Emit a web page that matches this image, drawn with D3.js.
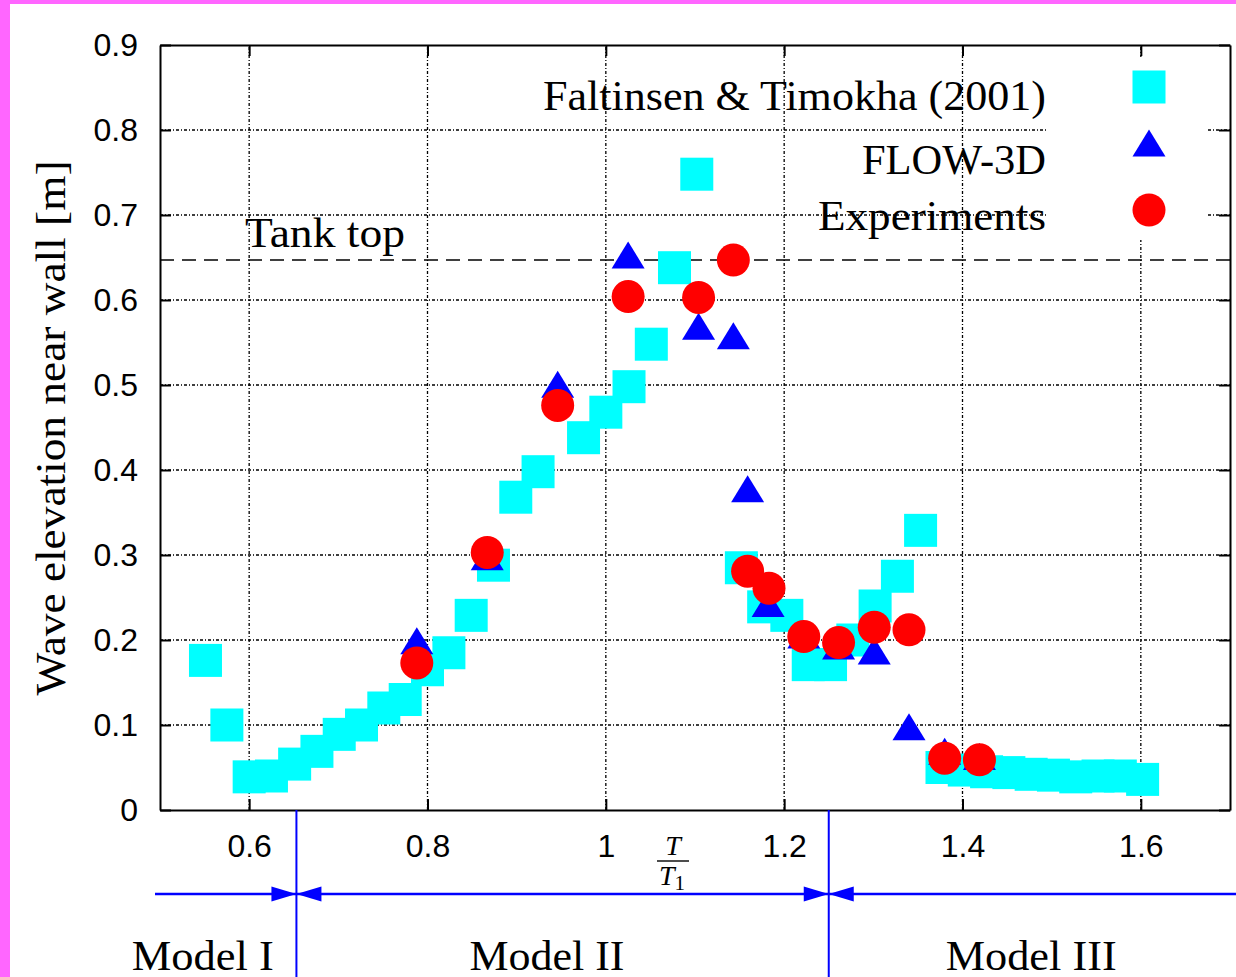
<!DOCTYPE html>
<html>
<head>
<meta charset="utf-8">
<script src="https://cdn.jsdelivr.net/npm/d3@7"></script>
<style>
  body { margin: 0; background: #fff; }
  .tick text { font-family: "Liberation Sans", Arial, sans-serif; font-size: 32px; fill: #000; }
  .axis path, .axis line { stroke: #000; stroke-width: 2; }
  .serif { font-family: "Liberation Serif", "Times New Roman", serif; fill: #000; }
</style>
</head>
<body>
<script>
// ---- data ----
const xTicks = [0.6, 0.8, 1, 1.2, 1.4, 1.6];
const yTicks = [0, 0.1, 0.2, 0.3, 0.4, 0.5, 0.6, 0.7, 0.8, 0.9];

// Faltinsen & Timokha (2001)
const ftT = [0.551, 0.575, 0.600, 0.625, 0.651, 0.676, 0.701, 0.726, 0.751, 0.775,
             0.800, 0.824, 0.849, 0.874, 0.899, 0.924, 0.975, 1.000, 1.026, 1.051,
             1.077, 1.102, 1.152, 1.177, 1.203, 1.227, 1.252, 1.277, 1.302, 1.327,
             1.353, 1.377, 1.402, 1.427, 1.452, 1.477, 1.502, 1.527, 1.552, 1.577, 1.602];
const ftEta = [0.176, 0.100, 0.039, 0.040, 0.054, 0.069, 0.089, 0.100, 0.120, 0.130,
               0.165, 0.185, 0.229, 0.288, 0.368, 0.398, 0.438, 0.468, 0.498, 0.548,
               0.638, 0.748, 0.285, 0.239, 0.229, 0.171, 0.171, 0.200, 0.240, 0.275,
               0.329, 0.050, 0.047, 0.045, 0.044, 0.042, 0.041, 0.039, 0.040, 0.040, 0.036];

// FLOW-3D
const flowT = [0.788, 0.867, 0.946, 1.025, 1.104, 1.143, 1.159, 1.182, 1.222, 1.261, 1.301, 1.340, 1.380, 1.419];
const flowEta = [0.199, 0.298, 0.501, 0.653, 0.569, 0.558, 0.378, 0.243, 0.206, 0.193, 0.187, 0.098, 0.069, 0.063];

// Experiments
const expT = [0.788, 0.867, 0.946, 1.025, 1.104, 1.143, 1.159, 1.183, 1.222, 1.261, 1.301, 1.340, 1.380, 1.419];
const expEta = [0.173, 0.303, 0.476, 0.604, 0.603, 0.647, 0.281, 0.261, 0.204, 0.197, 0.215, 0.212, 0.061, 0.059];

const legendNames = ["Faltinsen & Timokha (2001)", "FLOW-3D", "Experiments"];
const tankTop = 0.647;
const modelBounds = [0.653, 1.25];
const modelNames = ["Model I", "Model II", "Model III"];
const modelLabelAt = [0.548, 0.934, 1.477];

// ---- layout ----
const W = 1236, H = 977;
const margin = {top: 45, right: 6, bottom: 167, left: 160};
const x = d3.scaleLinear().domain([0.5, 1.7]).range([margin.left, W - margin.right]);
const y = d3.scaleLinear().domain([0, 0.9]).range([H - margin.bottom, margin.top]);
const ms = 33; // marker size

const svg = d3.select("body").append("svg")
    .attr("width", W)
    .attr("height", H);

// serif text, stretched to the width it has in the reference (Palatino-like font)
function serifText(sel, str, px, len) {
  return sel.append("text").attr("class", "serif")
      .style("font-size", px + "px")
      .attr("textLength", len)
      .attr("lengthAdjust", "spacingAndGlyphs")
      .text(str);
}

// grid
svg.append("g").selectAll("line").data(xTicks).join("line")
    .attr("x1", d => x(d)).attr("x2", d => x(d))
    .attr("y1", y(0)).attr("y2", y(0.9))
    .attr("stroke", "#000").attr("stroke-width", 1.3)
    .attr("stroke-dasharray", "3,2,1,2");
svg.append("g").selectAll("line").data(yTicks.slice(1, -1)).join("line")
    .attr("x1", x(0.5)).attr("x2", x(1.7))
    .attr("y1", d => y(d)).attr("y2", d => y(d))
    .attr("stroke", "#000").attr("stroke-width", 1.3)
    .attr("stroke-dasharray", "3,2,1,2");

// opaque key-sample area
svg.append("rect")
    .attr("x", 1048).attr("y", 57)
    .attr("width", 160).attr("height", 183)
    .attr("fill", "#fff");

// tank top line
svg.append("line")
    .attr("x1", x(0.5)).attr("x2", x(1.7))
    .attr("y1", y(tankTop)).attr("y2", y(tankTop))
    .attr("stroke", "#000").attr("stroke-width", 1.6)
    .attr("stroke-dasharray", "14,8");
serifText(svg, "Tank top", 42, 160).attr("x", 245).attr("y", 247);

// marker helpers
function square(sel, cx, cy) {
  sel.append("rect").attr("x", cx - ms / 2).attr("y", cy - ms / 2)
    .attr("width", ms).attr("height", ms).attr("fill", "#00ffff");
}
function triangle(sel, cx, cy) {
  const h = 27;
  sel.append("path")
    .attr("d", `M${cx},${cy - h / 2}L${cx + ms / 2},${cy + h / 2}L${cx - ms / 2},${cy + h / 2}Z`)
    .attr("fill", "#0000ff");
}
function circle(sel, cx, cy) {
  sel.append("circle").attr("cx", cx).attr("cy", cy).attr("r", ms / 2).attr("fill", "#ff0000");
}

const pts = svg.append("g");
ftT.forEach((t, i) => square(pts, x(t), y(ftEta[i])));
flowT.forEach((t, i) => triangle(pts, x(t), y(flowEta[i])));
expT.forEach((t, i) => circle(pts, x(t), y(expEta[i])));

// axes
const fmt = d3.format("~g");
svg.append("g").attr("class", "axis")
    .attr("transform", `translate(0,${y(0)})`)
    .call(d3.axisBottom(x).tickValues(xTicks).tickSize(-11).tickSizeOuter(0).tickPadding(24).tickFormat(fmt));
svg.append("g").attr("class", "axis")
    .attr("transform", `translate(0,${y(0.9)})`)
    .call(d3.axisTop(x).tickValues(xTicks).tickSize(-11).tickSizeOuter(0).tickFormat(""));
svg.append("g").attr("class", "axis")
    .attr("transform", `translate(${x(0.5)},0)`)
    .call(d3.axisLeft(y).tickValues(yTicks).tickSize(-11).tickSizeOuter(0).tickPadding(22).tickFormat(fmt));
svg.append("g").attr("class", "axis")
    .attr("transform", `translate(${x(1.7)},0)`)
    .call(d3.axisRight(y).tickValues(yTicks).tickSize(-11).tickSizeOuter(0).tickFormat(""));

// y label
serifText(svg, "Wave elevation near wall [m]", 42, 535)
    .attr("transform", "translate(65,428) rotate(-90)")
    .attr("text-anchor", "middle");

// x label  T / T1
const xl = svg.append("g").attr("class", "serif").style("font-style", "italic").style("font-size", "28px");
xl.append("text").attr("x", 673).attr("y", 855).attr("text-anchor", "middle").text("T");
xl.append("line").attr("x1", 657).attr("x2", 689).attr("y1", 861).attr("y2", 861)
    .attr("stroke", "#000").attr("stroke-width", 1.4);
const t1 = xl.append("text").attr("x", 672).attr("y", 885).attr("text-anchor", "middle");
t1.append("tspan").text("T");
t1.append("tspan").style("font-style", "normal").style("font-size", "21px").attr("dy", 5).text("1");

// legend
const legY = [87, 143, 210];
const legTextY = [110, 174, 230];
const legLen = [503, 184, 228];
const markers = [square, triangle, circle];
legendNames.forEach((name, i) => {
  serifText(svg, name, 42, legLen[i])
      .attr("x", 1046).attr("y", legTextY[i])
      .attr("text-anchor", "end");
  markers[i](svg, 1149, legY[i]);
});

// model regions
const blue = "#0000ff";
const ay = 894;
svg.append("line").attr("x1", 155).attr("x2", W).attr("y1", ay).attr("y2", ay)
    .attr("stroke", blue).attr("stroke-width", 2.5);
modelBounds.forEach(b => {
  const bx = x(b);
  svg.append("line").attr("x1", bx).attr("x2", bx).attr("y1", y(0)).attr("y2", H)
      .attr("stroke", blue).attr("stroke-width", 2);
  svg.append("path").attr("d", `M${bx},${ay}L${bx - 25},${ay - 7.5}L${bx - 25},${ay + 7.5}Z`).attr("fill", blue);
  svg.append("path").attr("d", `M${bx},${ay}L${bx + 25},${ay - 7.5}L${bx + 25},${ay + 7.5}Z`).attr("fill", blue);
});
const modelLen = [142, 155, 171];
modelNames.forEach((m, i) => {
  serifText(svg, m, 43, modelLen[i])
      .attr("x", x(modelLabelAt[i])).attr("y", 970)
      .attr("text-anchor", "middle");
});

// magenta page border
svg.append("rect").attr("x", 0).attr("y", 0).attr("width", 10).attr("height", H).attr("fill", "#ff66ff");
svg.append("rect").attr("x", 0).attr("y", 0).attr("width", W).attr("height", 4).attr("fill", "#ff66ff");
</script>
</body>
</html>
